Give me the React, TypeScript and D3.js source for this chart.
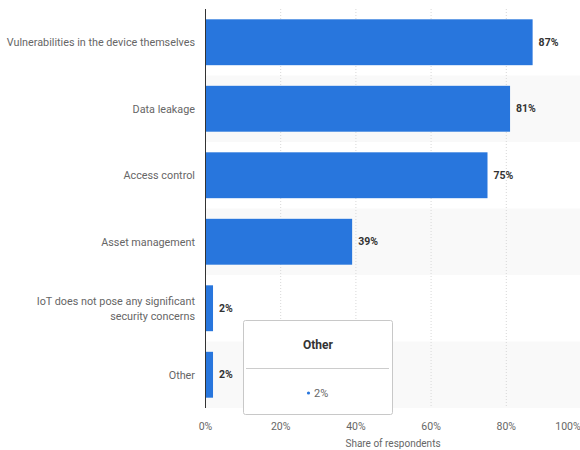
import React from "react";
import * as d3 from "d3";

const categories = [
  "Vulnerabilities in the device themselves",
  "Data leakage",
  "Access control",
  "Asset management",
  "IoT does not pose any significant security concerns",
  "Other",
];
const categoryLines = [
  ["Vulnerabilities in the device themselves"],
  ["Data leakage"],
  ["Access control"],
  ["Asset management"],
  ["IoT does not pose any significant", "security concerns"],
  ["Other"],
];
const values = [87, 81, 75, 39, 2, 2];
const ticks = [0, 20, 40, 60, 80, 100];
const tooltipCategory = "Other";
const tooltipValue = 2;

const W = 580;
const H = 450;
const FONT = "Roboto, 'Noto Sans', sans-serif";

export default function App() {
  const left = 205.5;
  const top = 9;
  const bottom = 408;
  const x = d3.scaleLinear().domain([0, 100]).range([left, left + 376]);
  const y = d3
    .scaleBand<string>()
    .domain(categories)
    .range([top, bottom])
    .paddingInner(0.31)
    .paddingOuter(0.155);
  const step = y.step();

  return (
    <svg
      width={W}
      height={H}
      style={{ position: "absolute", left: 0, top: 0, fontFamily: FONT }}
    >
      <rect x={0} y={0} width={W} height={H} fill="#fff" />
      {categories.map((c, i) =>
        i % 2 === 1 ? (
          <rect
            key={"bg" + i}
            x={left}
            y={top + i * step}
            width={W - left}
            height={step}
            fill="#f9f9f9"
          />
        ) : null
      )}
      {ticks.slice(1).map((t) => (
        <line
          key={"g" + t}
          x1={x(t)}
          x2={x(t)}
          y1={top}
          y2={bottom}
          stroke="#d8d8d8"
          strokeDasharray="1,2"
        />
      ))}
      {categories.map((c, i) => (
        <rect
          key={"b" + i}
          x={x(0)}
          y={y(c)!}
          width={x(values[i]) - x(0)}
          height={y.bandwidth()}
          fill="#2876dd"
        />
      ))}
      {categories.map((c, i) => (
        <text
          key={"v" + i}
          x={x(values[i]) + 6}
          y={y(c)! + y.bandwidth() / 2}
          dy="0.35em"
          fontSize={10.5}
          fontWeight="bold"
          fill="#333"
        >
          {values[i]}%
        </text>
      ))}
      {categories.map((c, i) => {
        const lines = categoryLines[i];
        const cy = y(c)! + y.bandwidth() / 2;
        const lh = 15;
        return (
          <text
            key={"l" + i}
            x={195}
            textAnchor="end"
            fontSize={10.8}
            fill="#666"
          >
            {lines.map((ln, j) => (
              <tspan
                key={j}
                x={195}
                y={cy + (j - (lines.length - 1) / 2) * lh}
                dy="0.35em"
              >
                {ln}
              </tspan>
            ))}
          </text>
        );
      })}
      <line x1={left} x2={left} y1={top} y2={bottom} stroke="#333" strokeWidth={1} />
      {ticks.map((t) => (
        <text
          key={"t" + t}
          x={t === 100 ? W - 12 : x(t)}
          y={426}
          dy="0.35em"
          textAnchor="middle"
          fontSize={10.5}
          fill="#666"
        >
          {t}%
        </text>
      ))}
      <text x={393} y={443} dy="0.35em" textAnchor="middle" fontSize={10} fill="#666">
        Share of respondents
      </text>
      <g>
        <rect
          x={243.5}
          y={320.5}
          width={149}
          height={94}
          fill="#fff"
          stroke="#c8c8c8"
          strokeWidth={1}
          rx={2}
        />
        <text x={318} y={345} dy="0.35em" textAnchor="middle" fontSize={12} fontWeight="bold" fill="#333">
          {tooltipCategory}
        </text>
        <line x1={246} x2={389} y1={368.5} y2={368.5} stroke="#ccc" />
        <circle cx={308.5} cy={393} r={1.6} fill="#2876dd" />
        <text x={314} y={393} dy="0.35em" fontSize={11} fill="#666">
          {tooltipValue}%
        </text>
      </g>
    </svg>
  );
}
